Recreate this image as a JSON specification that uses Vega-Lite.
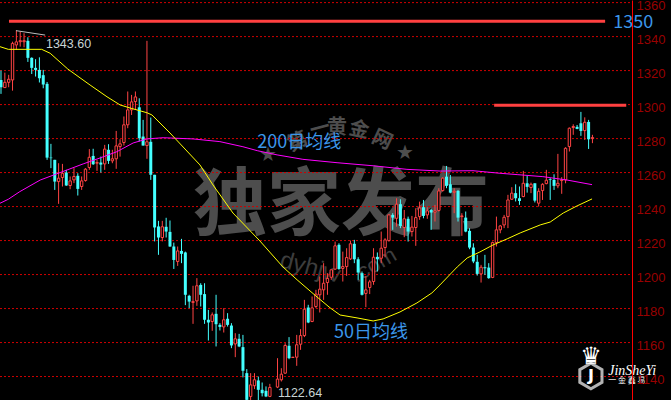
{"$schema":"https://vega.github.io/schema/vega-lite/v6.json","width":632,"height":400,"padding":{"left":0,"top":0,"right":39,"bottom":0},"autosize":{"type":"none"},"background":"#000000","view":{"stroke":null},
"datasets":{"candles":[
{"i":0,"h":1320,"o":1314.5,"c":1310.2,"l":1306.3},{"i":1,"h":1318.8,"o":1310,"c":1313.1,"l":1310},{"i":2,"h":1317.5,"o":1313.1,"c":1314.9,"l":1310.2},{"i":3,"h":1337,"o":1314.5,"c":1336,"l":1308.2},{"i":4,"h":1343.6,"o":1335.1,"c":1336.9,"l":1332.2},{"i":5,"h":1342.9,"o":1337,"c":1337.6,"l":1334.1},{"i":6,"h":1342,"o":1337,"c":1337.6,"l":1333.7},{"i":7,"h":1339.6,"o":1337.5,"c":1327.5,"l":1325.1},{"i":8,"h":1327.8,"o":1327.5,"c":1321.6,"l":1318},{"i":9,"h":1326.7,"o":1321.6,"c":1320.4,"l":1316.5},
{"i":10,"h":1327.8,"o":1320.4,"c":1315.5,"l":1313},{"i":11,"h":1320.4,"o":1317.3,"c":1311.8,"l":1309.6},{"i":12,"h":1313.3,"o":1312.2,"c":1268.8,"l":1267.5},{"i":13,"h":1276.9,"o":1268.8,"c":1268.5,"l":1262.6},{"i":14,"h":1267.5,"o":1267.5,"c":1254.7,"l":1249.8},{"i":15,"h":1265.5,"o":1254.7,"c":1256.7,"l":1241.6},{"i":16,"h":1265.1,"o":1257.1,"c":1259.6,"l":1251.8},{"i":17,"h":1261.6,"o":1260,"c":1252.4,"l":1252.2},{"i":18,"h":1257.7,"o":1252.4,"c":1255.1,"l":1250.2},{"i":19,"h":1262.6,"o":1255.7,"c":1257.7,"l":1253.8},
{"i":20,"h":1259.6,"o":1258.1,"c":1250.4,"l":1246.5},{"i":21,"h":1257.7,"o":1251.8,"c":1255.1,"l":1249.8},{"i":22,"h":1262.6,"o":1255.3,"c":1262,"l":1254.7},{"i":23,"h":1273.8,"o":1263,"c":1269,"l":1261.6},{"i":24,"h":1274,"o":1269.8,"c":1264.9,"l":1264.5},{"i":25,"h":1267.5,"o":1265.5,"c":1265.9,"l":1261},{"i":26,"h":1269.4,"o":1265.9,"c":1264.7,"l":1260},{"i":27,"h":1276.3,"o":1265.1,"c":1273.8,"l":1261.6},{"i":28,"h":1276.7,"o":1273.4,"c":1266.9,"l":1265.1},{"i":29,"h":1273.4,"o":1266.9,"c":1268.1,"l":1265.5},
{"i":30,"h":1284.5,"o":1268.1,"c":1275.7,"l":1262.2},{"i":31,"h":1279.6,"o":1275.3,"c":1276.9,"l":1269.4},{"i":32,"h":1293,"o":1277.7,"c":1288.1,"l":1275.9},{"i":33,"h":1307.7,"o":1288.1,"c":1296.9,"l":1286.1},{"i":34,"h":1305.7,"o":1296.9,"c":1301.6,"l":1293.9},{"i":35,"h":1307.7,"o":1301.8,"c":1304.5,"l":1296.9},{"i":36,"h":1303.7,"o":1298.4,"c":1280.2,"l":1278.3},{"i":37,"h":1291,"o":1281.2,"c":1275.9,"l":1275.9},{"i":38,"h":1337.5,"o":1275.9,"c":1278.1,"l":1268.1},{"i":39,"h":1292.4,"o":1278.1,"c":1258.7,"l":1255.7},
{"i":40,"h":1258.7,"o":1258.7,"c":1227.7,"l":1219.5},{"i":41,"h":1231.6,"o":1228.3,"c":1221.8,"l":1211.6},{"i":42,"h":1231.6,"o":1221.8,"c":1228.1,"l":1219.5},{"i":43,"h":1233.4,"o":1228.1,"c":1225.3,"l":1221.8},{"i":44,"h":1231.8,"o":1225.1,"c":1216.5,"l":1216.3},{"i":45,"h":1218.8,"o":1216.5,"c":1208.6,"l":1203.3},{"i":46,"h":1216.5,"o":1207.7,"c":1213.9,"l":1205.1},{"i":47,"h":1221,"o":1213.9,"c":1212.2,"l":1206.7},{"i":48,"h":1213.5,"o":1213,"c":1188.1,"l":1182},{"i":49,"h":1188.1,"o":1187.5,"c":1184.1,"l":1180.2},
{"i":50,"h":1193.4,"o":1183.6,"c":1184.1,"l":1171},{"i":51,"h":1197.9,"o":1184.5,"c":1193.4,"l":1181.6},{"i":52,"h":1194.9,"o":1193.9,"c":1188.1,"l":1181.2},{"i":53,"h":1194.9,"o":1188.5,"c":1173.4,"l":1171},{"i":54,"h":1179.2,"o":1173.4,"c":1171.8,"l":1161.2},{"i":55,"h":1177.7,"o":1172.4,"c":1176.3,"l":1166.9},{"i":56,"h":1188.1,"o":1176.9,"c":1170.8,"l":1157.7},{"i":57,"h":1171.4,"o":1170.4,"c":1169.2,"l":1167.1},{"i":58,"h":1180.2,"o":1169.2,"c":1173.4,"l":1165.9},{"i":59,"h":1177.3,"o":1174,"c":1170.4,"l":1169.4},
{"i":60,"h":1171.4,"o":1170,"c":1158.3,"l":1156.7},{"i":61,"h":1165.5,"o":1159.2,"c":1162.2,"l":1151.4},{"i":62,"h":1165.1,"o":1162.2,"c":1157.7,"l":1157.3},{"i":63,"h":1164.5,"o":1157.3,"c":1143.4,"l":1139.5},{"i":64,"h":1144.4,"o":1142,"c":1126.3,"l":1124},{"i":65,"h":1142,"o":1128.3,"c":1135.1,"l":1124.4},{"i":66,"h":1142,"o":1134.6,"c":1138.1,"l":1132.6},{"i":67,"h":1140,"o":1137.7,"c":1132.2,"l":1124.4},{"i":68,"h":1136.5,"o":1132.2,"c":1130.2,"l":1128.3},{"i":69,"h":1134.2,"o":1131.6,"c":1128.3,"l":1127.9},
{"i":70,"h":1135.7,"o":1128.3,"c":1133.6,"l":1127.9},{"i":71,"h":1126,"o":1125.5,"c":1124,"l":1122.64},{"i":72,"h":1150.8,"o":1133.8,"c":1138.5,"l":1133.2},{"i":73,"h":1144.9,"o":1138.1,"c":1141.4,"l":1137.1},{"i":74,"h":1159.6,"o":1142,"c":1158.3,"l":1141.6},{"i":75,"h":1163.2,"o":1158.1,"c":1150.8,"l":1150.2},{"i":76,"h":1151.4,"o":1151.2,"c":1151.4,"l":1151},{"i":77,"h":1164.5,"o":1151.4,"c":1158.7,"l":1146.3},{"i":78,"h":1167.9,"o":1159,"c":1164.1,"l":1155.7},{"i":79,"h":1185.1,"o":1164.1,"c":1179.6,"l":1163.2},
{"i":80,"h":1182.2,"o":1180.6,"c":1171.8,"l":1171.4},{"i":81,"h":1187.1,"o":1172.4,"c":1180.4,"l":1172},{"i":82,"h":1191,"o":1181.2,"c":1188.5,"l":1180.2},{"i":83,"h":1198.8,"o":1188.1,"c":1191.4,"l":1177.7},{"i":84,"h":1206.7,"o":1191,"c":1194.9,"l":1185.1},{"i":85,"h":1200.8,"o":1195.3,"c":1197.7,"l":1188.1},{"i":86,"h":1202.8,"o":1198.4,"c":1202.8,"l":1196.9},{"i":87,"h":1219.4,"o":1203.2,"c":1216.9,"l":1202.8},{"i":88,"h":1218.4,"o":1217.5,"c":1203.3,"l":1202.8},{"i":89,"h":1213.5,"o":1203.6,"c":1204.7,"l":1195.9},
{"i":90,"h":1215.5,"o":1204.7,"c":1210,"l":1199.2},{"i":91,"h":1220,"o":1209.2,"c":1218.1,"l":1208.6},{"i":92,"h":1220.4,"o":1218.1,"c":1209,"l":1206.7},{"i":93,"h":1210.2,"o":1209,"c":1201.2,"l":1196.9},{"i":94,"h":1201.8,"o":1200.8,"c":1188.1,"l":1187.7},{"i":95,"h":1199.2,"o":1188.9,"c":1191,"l":1180.8},{"i":96,"h":1196.9,"o":1192.4,"c":1195.7,"l":1188.5},{"i":97,"h":1215.5,"o":1195.9,"c":1210.2,"l":1194},{"i":98,"h":1213,"o":1210.4,"c":1209,"l":1201.8},{"i":99,"h":1225.3,"o":1209.6,"c":1215.5,"l":1206.7},
{"i":100,"h":1221.4,"o":1215.9,"c":1220.4,"l":1210.2},{"i":101,"h":1235.5,"o":1220,"c":1235.1,"l":1219.4},{"i":102,"h":1236.1,"o":1235.1,"c":1233.5,"l":1226.3},{"i":103,"h":1244.9,"o":1233.1,"c":1241.4,"l":1228.2},{"i":104,"h":1244.3,"o":1241.4,"c":1228.6,"l":1227.3},{"i":105,"h":1238,"o":1227.7,"c":1232.8,"l":1222},{"i":106,"h":1234.1,"o":1232.8,"c":1225.3,"l":1219.4},{"i":107,"h":1234.5,"o":1225.3,"c":1227.9,"l":1222.4},{"i":108,"h":1239,"o":1227.7,"c":1233.5,"l":1216.9},{"i":109,"h":1242.9,"o":1234.1,"c":1239.2,"l":1232.2},
{"i":110,"h":1243.9,"o":1239.6,"c":1234.5,"l":1233.1},{"i":111,"h":1239.6,"o":1235.1,"c":1237.5,"l":1232.8},{"i":112,"h":1238.6,"o":1238,"c":1236.5,"l":1226.3},{"i":113,"h":1241,"o":1236.7,"c":1237.5,"l":1231.2},{"i":114,"h":1250.8,"o":1237.7,"c":1249.2,"l":1237.1},{"i":115,"h":1257.3,"o":1249.4,"c":1256.7,"l":1248.8},{"i":116,"h":1263.9,"o":1257.6,"c":1252.2,"l":1250.8},{"i":117,"h":1258.6,"o":1253.1,"c":1248.2,"l":1247.8},{"i":118,"h":1250.8,"o":1248.4,"c":1249,"l":1236.1},{"i":119,"h":1249.8,"o":1249.2,"c":1233.5,"l":1231.2},
{"i":120,"h":1236.1,"o":1234.1,"c":1234.5,"l":1222.8},{"i":121,"h":1237.1,"o":1233.5,"c":1225.3,"l":1224.9},{"i":122,"h":1227.3,"o":1225.7,"c":1215.9,"l":1214.9},{"i":123,"h":1218.4,"o":1215.9,"c":1207.7,"l":1206.7},{"i":124,"h":1211.6,"o":1207.5,"c":1200.4,"l":1199.4},{"i":125,"h":1205.7,"o":1200.4,"c":1204.3,"l":1195.3},{"i":126,"h":1211.6,"o":1204.3,"c":1203.7,"l":1199.8},{"i":127,"h":1206.7,"o":1204.1,"c":1197.9,"l":1197.5},{"i":128,"h":1219.4,"o":1198.3,"c":1218.8,"l":1197.9},{"i":129,"h":1234.1,"o":1218.8,"c":1226.3,"l":1216.5},
{"i":130,"h":1229.2,"o":1226.3,"c":1228.6,"l":1224.3},{"i":131,"h":1235.1,"o":1229.2,"c":1233.7,"l":1227.3},{"i":132,"h":1246.9,"o":1234.1,"c":1243.9,"l":1227.3},{"i":133,"h":1251.4,"o":1244.3,"c":1247.9,"l":1243.9},{"i":134,"h":1253.1,"o":1247.9,"c":1244.9,"l":1243},{"i":135,"h":1251.8,"o":1244.9,"c":1243.3,"l":1241},{"i":136,"h":1261,"o":1245.9,"c":1253.7,"l":1245.5},{"i":137,"h":1258,"o":1253.7,"c":1251.6,"l":1248.2},{"i":138,"h":1254.1,"o":1251.2,"c":1253.1,"l":1247.9},{"i":139,"h":1253.7,"o":1253.7,"c":1243.5,"l":1242.4},
{"i":140,"h":1250.8,"o":1242,"c":1249,"l":1240},{"i":141,"h":1253.7,"o":1249.4,"c":1253.1,"l":1243.9},{"i":142,"h":1261.6,"o":1253.5,"c":1255.5,"l":1253.1},{"i":143,"h":1256.7,"o":1256.1,"c":1255.7,"l":1243.9},{"i":144,"h":1259,"o":1255.7,"c":1252.2,"l":1249.8},{"i":145,"h":1271,"o":1252.2,"c":1253.7,"l":1250.8},{"i":146,"h":1257.3,"o":1255.3,"c":1255.7,"l":1247.5},{"i":147,"h":1274.9,"o":1255.7,"c":1274.3,"l":1253.7},{"i":148,"h":1286.5,"o":1275.3,"c":1286.1,"l":1272.4},{"i":149,"h":1288.4,"o":1286.5,"c":1287.1,"l":1282.2},
{"i":150,"h":1288,"o":1286.9,"c":1285.7,"l":1285.5},{"i":151,"h":1295.7,"o":1289,"c":1284.5,"l":1281.6},{"i":152,"h":1292.5,"o":1284.7,"c":1289.6,"l":1279.2},{"i":153,"h":1291,"o":1289.8,"c":1279.6,"l":1273.9},{"i":154,"h":1282.2,"o":1280,"c":1280.6,"l":1277.3}
],
"ma50":[{"i":-0.3,"v":1334.1},{"i":1.9,"v":1332.5},{"i":10.6,"v":1332.5},{"i":12.8,"v":1330.2},{"i":17.4,"v":1320.9},{"i":23.2,"v":1311.5},{"i":27.6,"v":1304.6},{"i":31,"v":1299.8},{"i":33.6,"v":1298},{"i":38,"v":1295.2},{"i":39.3,"v":1293.9},{"i":44,"v":1283.3},{"i":51.8,"v":1264.5},{"i":55.2,"v":1252.7},{"i":60.4,"v":1236.2},{"i":67.4,"v":1219.8},{"i":73.4,"v":1204.5},{"i":77.1,"v":1196.9},{"i":82.3,"v":1186.8},{"i":85.7,"v":1180.4},{"i":88.3,"v":1176.2},{"i":92.7,"v":1174.5},{"i":96.9,"v":1172.7},{"i":99.5,"v":1173.9},{"i":103.9,"v":1178},{"i":108.3,"v":1183.3},{"i":112.2,"v":1189.2},{"i":114.3,"v":1193.9},{"i":118.8,"v":1204.5},{"i":121.4,"v":1209.8},{"i":124.7,"v":1213.3},{"i":128.1,"v":1217.4},{"i":131.8,"v":1221},{"i":135.2,"v":1224.5},{"i":140.4,"v":1229.2},{"i":143,"v":1230.9},{"i":146.4,"v":1236.2},{"i":150,"v":1240.4},{"i":153.9,"v":1244.5}],
"ma200":[{"i":-0.3,"v":1241.9},{"i":1.9,"v":1244.3},{"i":4.9,"v":1248.8},{"i":10.2,"v":1255.6},{"i":15.4,"v":1260},{"i":21.4,"v":1265.1},{"i":25.8,"v":1268.6},{"i":30.2,"v":1272.3},{"i":34.4,"v":1277.4},{"i":38,"v":1279.8},{"i":42.2,"v":1280.5},{"i":50,"v":1279.8},{"i":57,"v":1278.2},{"i":63,"v":1275.2},{"i":66.7,"v":1272.9},{"i":71.9,"v":1270.4},{"i":78.6,"v":1267.8},{"i":87.5,"v":1265.8},{"i":96.9,"v":1264},{"i":105.7,"v":1261.9},{"i":114.3,"v":1260.9},{"i":122.9,"v":1261.1},{"i":129.9,"v":1259.6},{"i":134.4,"v":1258.8},{"i":141.1,"v":1257.6},{"i":147.4,"v":1255.6},{"i":153.9,"v":1252.9}]},
"encoding":{"x":{"field":"i","type":"quantitative","axis":null,"scale":{"domain":[-0.26,164.3],"nice":false,"zero":false,"padding":0}},"y":{"field":"v","type":"quantitative","scale":{"domain":[1126.2,1361.53],"nice":false,"zero":false},"axis":{"orient":"right","values":[1140,1160,1180,1200,1220,1240,1260,1280,1300,1320,1340,1360],"format":"d","title":null,"grid":false,"ticks":false,"domain":true,"domainColor":"#ff0000","domainWidth":1,"labelColor":"#990000","labelFont":"Liberation Sans","labelFontSize":13,"labelPadding":4,"labelOffset":3,"labelOverlap":false,"labelBound":false,"labelFlush":false,"zindex":1}}},
"layer":[
{"data":{"values":[{"i":88.5,"v":1239.7,"t":"独家发布"}]},"mark":{"type":"text","font":"Noto Sans CJK SC","fontWeight":"bold","fontSize":74,"fill":"#4d4d4d","align":"center","baseline":"middle"},"encoding":{"text":{"field":"t"}}},
{"data":{"values":[{"i":77.3,"v":1278,"t":"第"}]},"mark":{"type":"text","font":"Noto Sans CJK SC","fontWeight":"bold","fontSize":20,"fill":"#4d4d4d","align":"center","baseline":"middle","angle":335},"encoding":{"text":{"field":"t"}}},
{"data":{"values":[{"i":83.1,"v":1285.6,"t":"一"}]},"mark":{"type":"text","font":"Noto Sans CJK SC","fontWeight":"bold","fontSize":20,"fill":"#4d4d4d","align":"center","baseline":"middle","angle":345},"encoding":{"text":{"field":"t"}}},
{"data":{"values":[{"i":87.5,"v":1286.2,"t":"黄"}]},"mark":{"type":"text","font":"Noto Sans CJK SC","fontWeight":"bold","fontSize":20,"fill":"#4d4d4d","align":"center","baseline":"middle"},"encoding":{"text":{"field":"t"}}},
{"data":{"values":[{"i":93.2,"v":1285,"t":"金"}]},"mark":{"type":"text","font":"Noto Sans CJK SC","fontWeight":"bold","fontSize":20,"fill":"#4d4d4d","align":"center","baseline":"middle","angle":12},"encoding":{"text":{"field":"t"}}},
{"data":{"values":[{"i":99.2,"v":1279.2,"t":"网"}]},"mark":{"type":"text","font":"Noto Sans CJK SC","fontWeight":"bold","fontSize":20,"fill":"#4d4d4d","align":"center","baseline":"middle","angle":25},"encoding":{"text":{"field":"t"}}},
{"data":{"values":[{"i":69.5,"v":1270.4,"t":"★"},{"i":105.2,"v":1271.5,"t":"★"}]},"mark":{"type":"text","font":"DejaVu Sans","fontSize":20,"fill":"#4d4d4d","align":"center","baseline":"middle"},"encoding":{"text":{"field":"t"}}},
{"data":{"values":[{"i":80.5,"v":1203.9,"t":"dyhjw"}]},"mark":{"type":"text","font":"Liberation Sans","fontSize":24,"fill":"#3d3d3d","align":"center","baseline":"middle","angle":15},"encoding":{"text":{"field":"t"}}},
{"data":{"values":[{"i":97.1,"v":1205.6,"t":".com"}]},"mark":{"type":"text","font":"Liberation Sans","fontSize":22,"fill":"#3d3d3d","align":"center","baseline":"middle","angle":330},"encoding":{"text":{"field":"t"}}},
{"data":{"values":[{"v":1140,"i":-0.26,"i2":164.3},{"v":1160,"i":-0.26,"i2":164.3},{"v":1180,"i":-0.26,"i2":164.3},{"v":1200,"i":-0.26,"i2":164.3},{"v":1220,"i":-0.26,"i2":164.3},{"v":1240,"i":-0.26,"i2":164.3},{"v":1260,"i":-0.26,"i2":164.3},{"v":1280,"i":-0.26,"i2":164.3},{"v":1300,"i":-0.26,"i2":164.3},{"v":1320,"i":-0.26,"i2":164.3},{"v":1340,"i":-0.26,"i2":164.3},{"v":1360,"i":-0.26,"i2":164.3}]},"mark":{"type":"rule","stroke":"#d00000","strokeWidth":1,"strokeDash":[2,2]},"encoding":{"x2":{"field":"i2"}}},
{"data":{"name":"candles"},"mark":{"type":"rule","strokeWidth":1,"clip":true},"encoding":{"y":{"field":"h","type":"quantitative"},"y2":{"field":"l"},"stroke":{"condition":{"test":"datum.c>=datum.o","value":"#ff4444"},"value":"#44ffff"}}},
{"data":{"name":"candles"},"transform":[{"filter":"datum.c<datum.o"}],"mark":{"type":"bar","size":3,"fill":"#44ffff","clip":true},"encoding":{"y":{"field":"o","type":"quantitative"},"y2":{"field":"c"}}},
{"data":{"name":"candles"},"transform":[{"filter":"datum.c>=datum.o"}],"mark":{"type":"bar","size":2.4,"fill":"#000000","stroke":"#ff4444","strokeWidth":1,"clip":true},"encoding":{"y":{"field":"o","type":"quantitative"},"y2":{"field":"c"}}},
{"data":{"name":"ma200"},"mark":{"type":"line","stroke":"#ff00ff","strokeWidth":1,"clip":true}},
{"data":{"name":"ma50"},"mark":{"type":"line","stroke":"#ffff00","strokeWidth":1,"clip":true}},
{"data":{"values":[{"i":2.08,"i2":157.3,"v":1349},{"i":128.4,"i2":162.8,"v":1299.6}]},"mark":{"type":"rule","stroke":"#ff4040","strokeWidth":3},"encoding":{"x2":{"field":"i2"}}},
{"data":{"values":[{"i":3.9,"i2":11.5,"v":1343.5,"v2":1340.9}]},"mark":{"type":"rule","stroke":"#bdbdbd","strokeWidth":1},"encoding":{"x2":{"field":"i2"},"y2":{"field":"v2"}}},
{"data":{"values":[{"i":11.7,"v":1335.8,"t":"1343.60"},{"i":72.1,"v":1130.5,"t":"1122.64"}]},"mark":{"type":"text","font":"Liberation Sans","fontSize":12.5,"fill":"#c8d4d4","align":"left","baseline":"middle"},"encoding":{"text":{"field":"t"}}},
{"data":{"values":[{"i":66.7,"v":1277.4,"t":"200日均线"},{"i":86.7,"v":1165.6,"t":"50日均线"},{"i":159.4,"v":1348,"t":"1350"}]},"mark":{"type":"text","font":"Noto Sans CJK SC","fontSize":18,"fill":"#3b96ea","align":"left","baseline":"middle"},"encoding":{"text":{"field":"t"}}},
{"data":{"values":[{"i":153.6,"v":1140.3}]},"mark":{"type":"point","shape":"M0,-1L0.87,-0.5L0.87,0.5L0,1L-0.87,0.5L-0.87,-0.5Z","size":650,"filled":true,"fill":"#000000","stroke":"#ffffff","strokeWidth":3}},
{"data":{"values":[{"i":153.6,"v":1140.3,"t":"J"}]},"mark":{"type":"text","font":"DejaVu Sans","fontWeight":"bold","fontSize":16,"fill":"#ffffff","align":"center","baseline":"middle"},"encoding":{"text":{"field":"t"}}},
{"data":{"values":[{"i":153.6,"v":1151.4,"t":"♛"}]},"mark":{"type":"text","font":"DejaVu Sans","fontSize":24,"fill":"#ffffff","align":"center","baseline":"middle"},"encoding":{"text":{"field":"t"}}},
{"data":{"values":[{"i":158.1,"v":1143.3,"t":"JinSheYi"}]},"mark":{"type":"text","font":"Liberation Serif","fontStyle":"italic","fontSize":14,"fill":"#ffffff","align":"left","baseline":"middle"},"encoding":{"text":{"field":"t"}}},
{"data":{"values":[{"i":158.1,"v":1137.4,"t":"一 金 鑫 易"}]},"mark":{"type":"text","font":"Noto Sans CJK SC","fontSize":8,"fill":"#ffffff","align":"left","baseline":"middle"},"encoding":{"text":{"field":"t"}}}
]}
